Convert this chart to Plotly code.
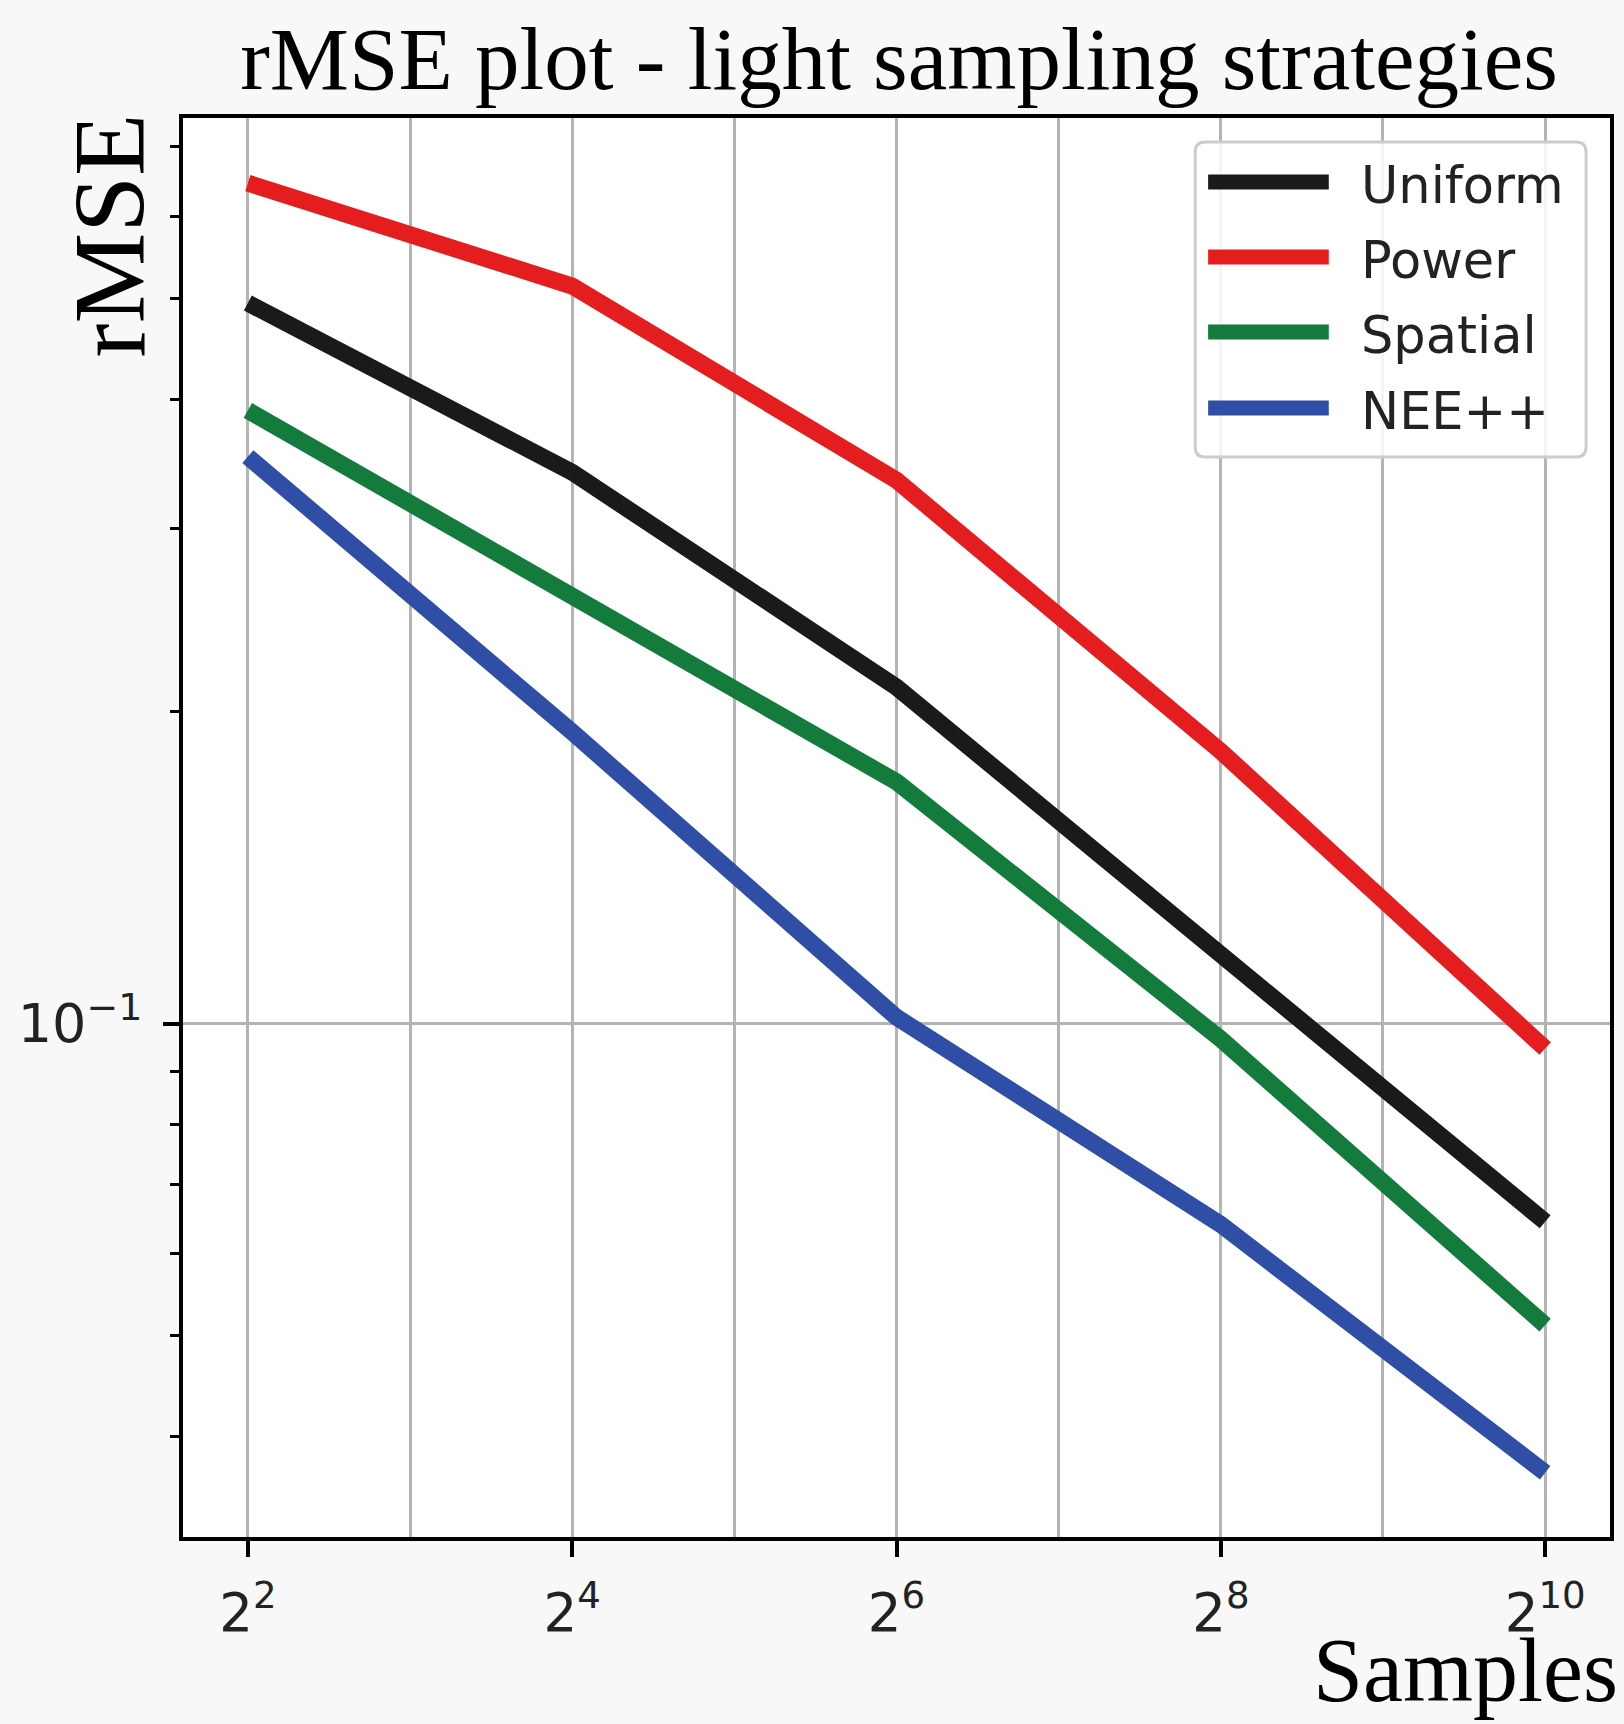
import plotly.graph_objects as go
import math

# ---------------- data ----------------
samples = [4, 16, 64, 256, 1024]
series_names = ["Uniform", "Power", "Spatial", "NEE++"]
uniform = [0.495, 0.340, 0.211, 0.117, 0.0644]
power = [0.646, 0.514, 0.334, 0.183, 0.0946]
spatial = [0.390, 0.259, 0.171, 0.0966, 0.0512]
neepp = [0.352, 0.191, 0.1014, 0.064, 0.0369]
x_tick_vals = [4, 16, 64, 256, 1024]
x_tick_text = ["2<sup>2</sup>", "2<sup>4</sup>", "2<sup>6</sup>", "2<sup>8</sup>", "2<sup>10</sup>"]
x_minor_vals = [8, 32, 128, 512]
y_tick_vals = [0.1]
y_tick_text = ["10<sup>\u22121</sup>"]
y_minor_vals = [0.04, 0.05, 0.06, 0.07, 0.08, 0.09, 0.2, 0.3, 0.4, 0.5, 0.6, 0.7]

colors = ["#1a1a1a", "#e41e1e", "#137b3b", "#2f4fa6"]
values = [uniform, power, spatial, neepp]

# ---------------- layout geometry ----------------
W, H = 1624, 1724
ML, MR, MT, MB = 183, 10, 118, 187
PW = W - ML - MR
PH = H - MT - MB


def px(xp):
    return (xp - ML) / PW


def py(yp):
    return (H - MB - yp) / PH


fig = go.Figure()
for name, vals, c in zip(series_names, values, colors):
    fig.add_trace(go.Scatter(x=samples, y=vals, mode="lines", name=name,
                             line=dict(color=c, width=17), showlegend=False))

xr = [math.log10(2 ** 1.6), math.log10(2 ** 10.4)]
yr = [-1.495, -0.127]

axis_common = dict(showline=True, linecolor="black", linewidth=4, mirror=True,
                   ticks="outside", tickcolor="black", tickwidth=4,
                   zeroline=False)

fig.update_xaxes(type="log", range=xr, tickmode="array", tickvals=x_tick_vals,
                 ticktext=x_tick_text, ticklen=16,
                 showgrid=True, gridcolor="#b4b4b4", gridwidth=3,
                 tickfont=dict(family="DejaVu Sans", size=53, color="#222"),
                 ticklabelstandoff=10,
                 minor=dict(tickmode="array", tickvals=x_minor_vals, ticks="",
                            showgrid=True, gridcolor="#b4b4b4", gridwidth=3),
                 **axis_common)
fig.update_yaxes(type="log", range=yr, tickmode="array", tickvals=y_tick_vals,
                 ticktext=y_tick_text, ticklen=16,
                 showgrid=True, gridcolor="#b4b4b4", gridwidth=3,
                 tickfont=dict(family="DejaVu Sans", size=54, color="#222"),
                 ticklabelstandoff=10,
                 minor=dict(tickmode="array", tickvals=y_minor_vals, ticks="outside",
                            ticklen=9, tickwidth=3, tickcolor="black", showgrid=False),
                 **axis_common)

shapes = []
annotations = []

# legend box (rounded)
x0, x1, y0, y1 = px(1198), px(1590), py(142), py(457)
rx, ry = 10 / PW, 10 / PH
path = (f"M {x0+rx},{y0} L {x1-rx},{y0} Q {x1},{y0} {x1},{y0-ry} "
        f"L {x1},{y1+ry} Q {x1},{y1} {x1-rx},{y1} L {x0+rx},{y1} "
        f"Q {x0},{y1} {x0},{y1+ry} L {x0},{y0-ry} Q {x0},{y0} {x0+rx},{y0} Z")
shapes.append(dict(type="path", xref="paper", yref="paper", path=path,
                   line=dict(color="#cccccc", width=3), fillcolor="rgba(255,255,255,0.85)"))
rows = [182, 257, 332, 408]
for name, c, ry_ in zip(series_names, colors, rows):
    shapes.append(dict(type="line", xref="paper", yref="paper",
                       x0=px(1211), x1=px(1332), y0=py(ry_), y1=py(ry_),
                       line=dict(color=c, width=15)))
    annotations.append(dict(xref="paper", yref="paper", x=px(1362), y=py(ry_ + 3),
                            xanchor="left", yanchor="middle", text=name, showarrow=False,
                            font=dict(family="DejaVu Sans", size=51, color="#222")))

# axis titles
annotations.append(dict(xref="paper", yref="paper", x=0, y=1, xanchor="right", yanchor="top",
                        xshift=-16, yshift=6, text="rMSE", textangle=-90, showarrow=False,
                        font=dict(family="Liberation Serif", size=102, color="black")))
annotations.append(dict(xref="paper", yref="paper", x=1, y=0, xanchor="right", yanchor="top",
                        xshift=10, yshift=-82, text="Samples", showarrow=False,
                        font=dict(family="Liberation Serif", size=90, color="black")))

fig.update_layout(
    width=W, height=H,
    margin=dict(l=ML, r=MR, t=MT, b=MB, pad=0),
    paper_bgcolor="#f8f8f8", plot_bgcolor="white",
    title=dict(text="rMSE plot - light sampling strategies", x=px(901), xref="paper",
               xanchor="center", y=1 - 58 / H, yref="container", yanchor="middle",
               font=dict(family="Liberation Serif", size=89, color="black")),
    shapes=shapes, annotations=annotations,
)

fig.write_html("out.html", config={"displayModeBar": False},
               post_script="document.body.style.margin='0';document.body.style.overflow='hidden';")
